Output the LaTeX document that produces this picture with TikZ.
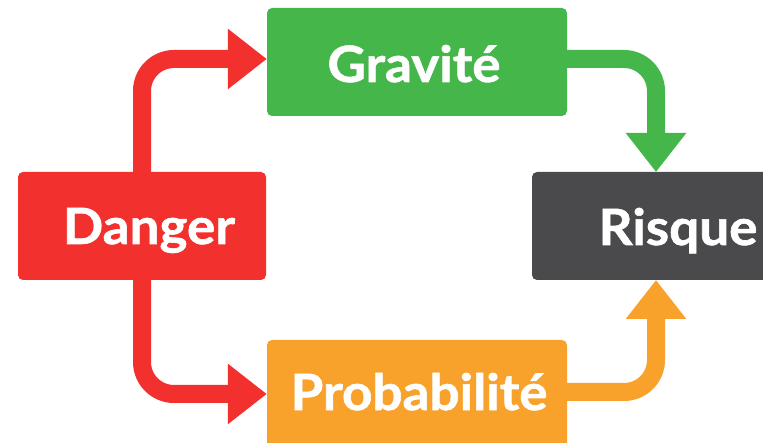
\documentclass[tikz,border=0pt]{standalone}
\usepackage{fontspec}
\setmainfont{Lato}[FakeStretch=1.06, BoldFeatures={FakeBold=1.2}]
\usetikzlibrary{arrows.meta}
\definecolor{cred}{HTML}{F2302E}
\definecolor{cgreen}{HTML}{45B649}
\definecolor{corange}{HTML}{F9A22B}
\definecolor{cgray}{HTML}{4A4A4C}
\tikzset{
  box/.style={rectangle, rounded corners=5pt, inner sep=0pt, minimum height=108pt},
  lbl/.style={anchor=base, inner sep=0pt, text=white, font=\fontsize{50}{50}\selectfont\bfseries},
  flow/.style={line width=18pt, rounded corners=32pt, -{Triangle[length=39pt,width=58pt]}},
}
\begin{document}
\begin{tikzpicture}[x=1pt,y=-1pt]
\useasboundingbox (0,0) rectangle (763,443);
\node[box, fill=cred, minimum width=248pt] (danger) at (142,226) {};
\node[box, fill=cgreen, minimum width=300pt] (grav) at (417,62) {};
\node[box, fill=corange, minimum width=300pt] (prob) at (417,394) {};
\node[box, fill=cgray, minimum width=260pt] (risk) at (662,226) {};
\node[lbl] (tdanger) at (149,244) {Danger};
\node[lbl] (tgrav) at (414,82) {Gravité};
\node[lbl] (tprob) at (419,410) {Probabilité};
\node[lbl] (trisk) at (678,245) {Risque};
\coordinate (rtop) at (656,172);
\coordinate (rbot) at (656,280);
\draw[flow, cred] (danger.north) |- ([yshift=3pt]grav.west);
\draw[flow, cred] (danger.south) |- (prob.west);
\draw[flow, cgreen] ([yshift=3pt]grav.east) -| (rtop);
\draw[flow, corange] ([yshift=2pt]prob.east) -| (rbot);
\end{tikzpicture}
\end{document}
